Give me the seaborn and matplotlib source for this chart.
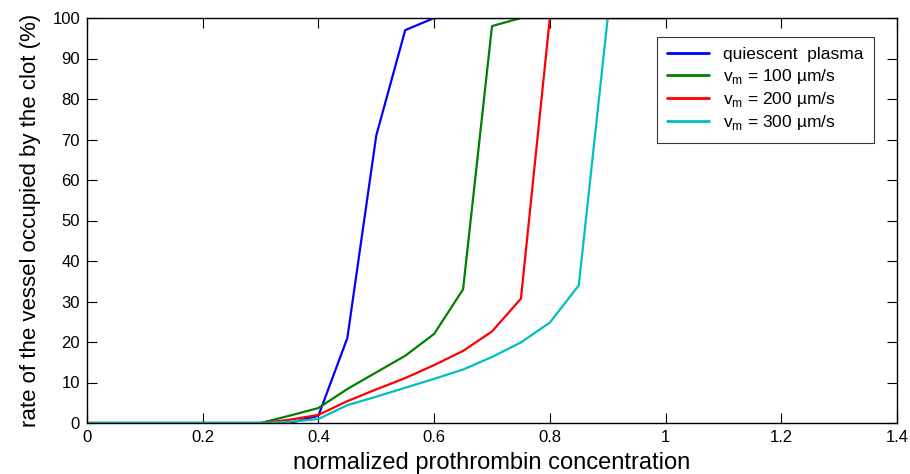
import numpy as np
import pandas as pd
import matplotlib
matplotlib.use("Agg")
import matplotlib.pyplot as plt
import seaborn as sns

x = [0, 0.05, 0.1, 0.15, 0.2, 0.25, 0.3, 0.35, 0.4, 0.45, 0.5, 0.55, 0.6, 0.65,
     0.7, 0.75, 0.8, 0.85, 0.9, 0.95, 1.0]
quiescent = [0, 0, 0, 0, 0, 0, 0, 0, 1.8, 21, 71, 97, 100, 100, 100, 100, 100, 100, 100, 100, 100]
vm100 = [0, 0, 0, 0, 0, 0, 0, 1.8, 3.7, 8.4, 12.5, 16.6, 22, 33, 98, 100, 100, 100, 100, 100, 100]
vm200 = [0, 0, 0, 0, 0, 0, 0, 0.8, 2.0, 5.4, 8.3, 11.1, 14.3, 17.8, 22.6, 30.7, 100, 100, 100, 100, 100]
vm300 = [0, 0, 0, 0, 0, 0, 0, 0.3, 1.0, 4.4, 6.5, 8.7, 10.9, 13.2, 16.3, 19.9, 24.8, 34, 100, 100, 100]

labels = ["quiescent  plasma", r"v$_\mathregular{m}$ = 100 µm/s",
          r"v$_\mathregular{m}$ = 200 µm/s", r"v$_\mathregular{m}$ = 300 µm/s"]
colors = ["#0000ff", "#008000", "#ff0000", "#00bfbf"]
xticks = [0, 0.2, 0.4, 0.6, 0.8, 1, 1.2, 1.4]
xticklabels = ["0", "0.2", "0.4", "0.6", "0.8", "1", "1.2", "1.4"]
yticks = list(range(0, 101, 10))

sns.set_style("ticks")
plt.rcParams["font.family"] = ["Liberation Sans", "DejaVu Sans"]
plt.rcParams["mathtext.fontset"] = "custom"
plt.rcParams["mathtext.rm"] = "Liberation Sans"
plt.rcParams["text.color"] = "black"
plt.rcParams["axes.labelcolor"] = "black"
plt.rcParams["xtick.color"] = "black"
plt.rcParams["ytick.color"] = "black"

frames = []
for lab, ys in zip(labels, [quiescent, vm100, vm200, vm300]):
    frames.append(pd.DataFrame({"x": x, "y": ys, "series": lab}))
df = pd.concat(frames, ignore_index=True)

fig = plt.figure(figsize=(9.1, 4.74), dpi=100)
ax = fig.add_axes([87 / 910, 1 - 423 / 474, (897 - 87) / 910, (423 - 18) / 474])
sns.lineplot(data=df, x="x", y="y", hue="series", hue_order=labels,
             palette=colors, linewidth=1.6, ax=ax, legend=True)

ax.set_xlim(0, 1.4)
ax.set_ylim(0, 100)
ax.set_xticks(xticks)
ax.set_xticklabels(xticklabels)
ax.set_yticks(yticks)
ax.tick_params(direction="in", top=True, right=True, length=7, width=0.8,
               labelsize=12, pad=5, colors="black")
for s in ax.spines.values():
    s.set_linewidth(1.0)
    s.set_color("black")
ax.set_xlabel("normalized prothrombin concentration", fontsize=17, labelpad=5, color="black")
ax.set_ylabel("rate of the vessel occupied by the clot (%)", fontsize=16, labelpad=8, color="black")

leg = ax.legend(loc="upper right", bbox_to_anchor=(0.982, 0.975), fontsize=12.5,
                frameon=True, fancybox=False, edgecolor="black",
                handlelength=2.4, borderpad=0.6, labelspacing=0.25)
leg.get_frame().set_linewidth(0.8)
for t in leg.get_texts():
    t.set_color("black")
for lh in leg.get_lines():
    lh.set_linewidth(2)

fig.savefig("out.png", dpi=100)
